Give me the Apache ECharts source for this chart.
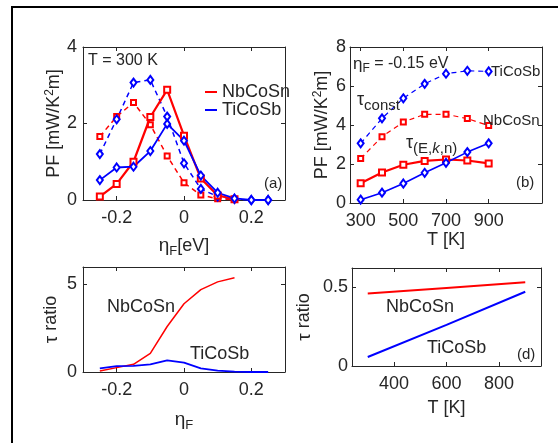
<!DOCTYPE html>
<html><head><meta charset="utf-8">
<script src="https://cdn.jsdelivr.net/npm/echarts@6/dist/echarts.min.js"></script>
<style>html,body{margin:0;padding:0;background:#fff}#c{width:558px;height:443px}</style>
</head><body><div id="c"></div><script>
// ---- data ----
const etaF = [-0.25, -0.2, -0.15, -0.1, -0.05, 0, 0.05, 0.1, 0.15, 0.2, 0.25];
const T = [300, 400, 500, 600, 700, 800, 900];
// panel (a): PF vs eta_F at 300 K
const pfNbTauA   = [0.09, 0.42, 1.0, 2.17, 2.88, 1.68, 0.56, 0.12, 0.02];
const pfNbConstA = [1.66, 2.18, 2.55, 1.97, 1.15, 0.45, 0.13, 0.03, 0.01];
const pfTiTauA   = [0.52, 0.85, 0.87, 1.28, 1.99, 1.55, 0.64, 0.19, 0.04, 0.0, 0.0];
const pfTiConstA = [1.2, 2.11, 3.07, 3.14, 2.18, 0.96, 0.29, 0.09, 0.02, 0.0, 0.0];
// panel (b): PF vs T at eta_F = -0.15 eV
const pfTiConstB = [3.06, 4.34, 5.37, 6.11, 6.63, 6.78, 6.75];
const pfNbConstB = [2.28, 3.4, 4.15, 4.55, 4.55, 4.33, 3.97];
const pfNbTauB   = [1.01, 1.56, 1.96, 2.16, 2.23, 2.18, 2.03];
const pfTiTauB   = [0.17, 0.53, 1.0, 1.55, 2.06, 2.61, 3.06];
// panel (c): tau ratio vs eta_F
const ratioNbC = [0.06, 0.25, 0.44, 1.06, 2.6, 3.9, 4.71, 5.15, 5.38];
const ratioTiC = [0.21, 0.33, 0.35, 0.44, 0.67, 0.54, 0.21, 0.08, 0.02, 0.0, 0.0];
// panel (d): tau ratio vs T
const Td = [300, 600, 900];
const ratioNbD = [0.458, 0.494, 0.53];
const ratioTiD = [0.057, 0.26, 0.47];
// ticks
const etaTicks = [-0.2, 0, 0.2];
const pfTicksA = [0, 2, 4];
const TTicksB = [300, 500, 700, 900];
const pfTicksB = [0, 2, 4, 6, 8];
const ratioTicksC = [0, 5];
const TTicksD = [400, 600, 800];
const ratioTicksD = [0, 0.5];

// ---- build ----
const FONT = '"Liberation Sans", Arial, sans-serif';
const TXT = '#262626';
const RED = '#ff0000', BLUE = '#0000ff';
const zip = (xs, ys) => ys.map((y, i) => [xs[i], y]);

const grids = [
  {left: 83, top: 47, width: 202, height: 153},
  {left: 350, top: 47, width: 192, height: 156},
  {left: 83, top: 267, width: 202, height: 105},
  {left: 352, top: 268, width: 189, height: 98}
];

const xAxis = [], yAxis = [];
function axes(g, xr, xt, yr, yt, xname, xgap, yname, ygap, ylabelMargin) {
  const line = {show: true, onZero: false, lineStyle: {color: TXT, width: 1}};
  const tick = (vals) => ({show: true, inside: true, length: 4, customValues: vals, lineStyle: {color: TXT}});
  const lab = (vals, m) => ({show: true, customValues: vals, fontSize: 18, color: TXT, fontFamily: FONT, margin: m});
  const nameStyle = {fontSize: 18, color: TXT, fontFamily: FONT,
    rich: {
      g: {fontSize: 19, color: TXT, fontFamily: FONT},
      s: {fontSize: 13, color: TXT, fontFamily: FONT, padding: [11, 0, 0, 0]},
      sup: {fontSize: 12, color: TXT, fontFamily: FONT, padding: [0, 0, 9, 0]},
      n: {fontSize: 18, color: TXT, fontFamily: FONT}
    }};
  xAxis.push({gridIndex: g, type: 'value', position: 'bottom', min: xr[0], max: xr[1],
    axisLine: line, axisTick: tick(xt), axisLabel: lab(xt, 9), splitLine: {show: false},
    name: xname, nameLocation: 'middle', nameGap: xgap, nameTextStyle: nameStyle});
  xAxis.push({gridIndex: g, type: 'value', position: 'top', min: xr[0], max: xr[1],
    axisLine: line, axisTick: tick(xt), axisLabel: {show: false}, splitLine: {show: false}});
  yAxis.push({gridIndex: g, type: 'value', position: 'left', min: yr[0], max: yr[1],
    axisLine: line, axisTick: tick(yt), axisLabel: lab(yt, ylabelMargin), splitLine: {show: false},
    name: yname, nameLocation: 'middle', nameGap: ygap, nameRotate: 90, nameTextStyle: nameStyle});
  yAxis.push({gridIndex: g, type: 'value', position: 'right', min: yr[0], max: yr[1],
    axisLine: line, axisTick: tick(yt), axisLabel: {show: false}, splitLine: {show: false}});
}
const pfName = '{n|PF [mW/K}{sup|2}{n|m]}';
axes(0, [-0.3, 0.3], etaTicks, [0, 4], pfTicksA, '{g|η}{s|F}{n|[eV]}', 34, pfName, 18, 6);
axes(1, [250, 1150], TTicksB, [0, 8], pfTicksB, 'T [K]', 17, pfName, 17, 4);
axes(2, [-0.3, 0.3], etaTicks, [0, 6], ratioTicksC, '{g|η}{s|F}', 36, '{g|τ}{n| ratio}', 22, 6);
axes(3, [240, 960], TTicksD, [0, 0.62], ratioTicksD, 'T [K]', 33, '{g|τ}{n| ratio}', 38, 4);

function ser(name, g, xs, ys, color, solid, symbol, size, width) {
  return {name: name, type: 'line', xAxisIndex: 2 * g, yAxisIndex: 2 * g, data: zip(xs, ys),
    symbol: symbol || 'none', symbolSize: size || 6, showSymbol: !!symbol,
    lineStyle: {color: color, width: width, type: solid ? 'solid' : [5, 4]},
    itemStyle: {color: color, borderColor: color, borderWidth: 1.3}, z: solid ? 3 : 2};
}
const DIA = [6, 8];
const series = [
  ser('NbCoSn const', 0, etaF, pfNbConstA, RED, false, 'emptyRect', 5, 1.5),
  ser('TiCoSb const', 0, etaF, pfTiConstA, BLUE, false, 'emptyDiamond', DIA, 1.5),
  ser('NbCoSn', 0, etaF, pfNbTauA, RED, true, 'emptyRect', 6, 2.2),
  ser('TiCoSb', 0, etaF, pfTiTauA, BLUE, true, 'emptyDiamond', DIA, 1.8),
  ser('TiCoSb constB', 1, T, pfTiConstB, BLUE, false, 'emptyDiamond', DIA, 1.2),
  ser('NbCoSn constB', 1, T, pfNbConstB, RED, false, 'emptyRect', 5, 1.2),
  ser('NbCoSn tauB', 1, T, pfNbTauB, RED, true, 'emptyRect', 6, 2.2),
  ser('TiCoSb tauB', 1, T, pfTiTauB, BLUE, true, 'emptyDiamond', DIA, 1.6),
  ser('NbCoSn c', 2, etaF, ratioNbC, RED, true, null, 0, 1.5),
  ser('TiCoSb c', 2, etaF, ratioTiC, BLUE, true, null, 0, 1.8),
  ser('NbCoSn d', 3, Td, ratioNbD, RED, true, null, 0, 2),
  ser('TiCoSb d', 3, Td, ratioTiD, BLUE, true, null, 0, 2)
];

function txt(x, y, text, size, extra) {
  return Object.assign({type: 'text', x: x, y: y, z: 10, silent: true,
    style: Object.assign({text: text, fill: TXT, font: size + 'px ' + FONT, verticalAlign: 'middle', align: 'left'}, extra || {})});
}
const richT = {
  t: {fontSize: 18, fill: TXT, fontFamily: FONT},
  s: {fontSize: 15, fill: TXT, fontFamily: FONT, padding: [12, 0, 0, 0]},
  k: {fontSize: 15, fill: TXT, fontFamily: FONT, fontStyle: 'italic', padding: [12, 0, 0, 0]},
  e: {fontSize: 17, fill: TXT, fontFamily: FONT},
  f: {fontSize: 12, fill: TXT, fontFamily: FONT, padding: [9, 0, 0, 0]},
  n: {fontSize: 16, fill: TXT, fontFamily: FONT}
};
const graphic = [
  {type: 'rect', shape: {x: 12, y: 7, width: 620, height: 520}, style: {fill: 'none', stroke: '#000', lineWidth: 2}, silent: true},
  txt(88, 61, 'T = 300 K', 16),
  txt(264, 184, '(a)', 15),
  txt(353, 64, '{e|η}{f|F}{n| = -0.15 eV}', 16, {rich: richT}),
  txt(491, 72, 'TiCoSb', 15),
  txt(483, 121, 'NbCoSn', 15),
  txt(357, 100, '{t|τ}{s|const}', 18, {rich: richT}),
  txt(406, 143, '{t|τ}{s|(E,}{k|k}{s|,n)}', 18, {rich: richT}),
  txt(516, 183, '(b)', 15),
  txt(107, 307, 'NbCoSn', 18),
  txt(190, 354, 'TiCoSb', 18),
  txt(386, 307, 'NbCoSn', 18),
  txt(427, 348, 'TiCoSb', 18),
  txt(517, 355, '(d)', 15)
];

const chart = echarts.init(document.getElementById('c'), null, {renderer: 'canvas'});
chart.setOption({
  animation: false,
  backgroundColor: '#fff',
  textStyle: {fontFamily: FONT},
  grid: grids,
  xAxis: xAxis,
  yAxis: yAxis,
  legend: {data: ['NbCoSn', 'TiCoSb'], orient: 'vertical', left: 200, top: 78, itemWidth: 12, itemHeight: 2,
    icon: 'rect', itemGap: 0, itemStyle: {borderWidth: 0, borderColor: 'transparent'},
    textStyle: {fontSize: 18, color: TXT, fontFamily: FONT, lineHeight: 18}},
  series: series,
  graphic: graphic
});
</script></body></html>
